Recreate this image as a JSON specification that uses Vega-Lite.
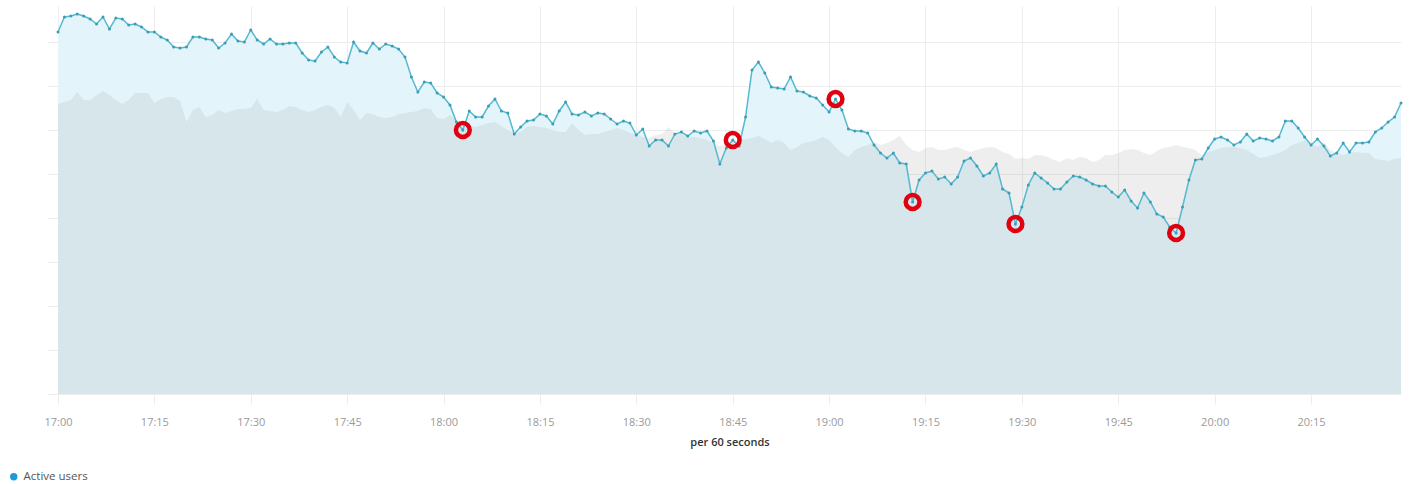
{
  "$schema": "https://vega.github.io/schema/vega-lite/v6.json",
  "autosize": {"type": "none"},
  "width": 1343,
  "height": 388,
  "padding": {"left": 58, "top": 6, "right": 9, "bottom": 90},
  "background": "white",
  "config": {
    "view": {"stroke": null},
    "font": "Open Sans"
  },
  "data": {
    "values": [
      {"t":"2024-01-01T17:00","a":362,"p":290},{"t":"2024-01-01T17:01","a":377,"p":292},{"t":"2024-01-01T17:02","a":378,"p":294},{"t":"2024-01-01T17:03","a":380,"p":302},{"t":"2024-01-01T17:04","a":378,"p":294},
      {"t":"2024-01-01T17:05","a":375,"p":294},{"t":"2024-01-01T17:06","a":370,"p":299},{"t":"2024-01-01T17:07","a":377,"p":303},{"t":"2024-01-01T17:08","a":365,"p":299},{"t":"2024-01-01T17:09","a":376,"p":294},
      {"t":"2024-01-01T17:10","a":375,"p":290},{"t":"2024-01-01T17:11","a":369,"p":294},{"t":"2024-01-01T17:12","a":370,"p":301},{"t":"2024-01-01T17:13","a":367,"p":301},{"t":"2024-01-01T17:14","a":362,"p":301},
      {"t":"2024-01-01T17:15","a":362,"p":291},{"t":"2024-01-01T17:16","a":357,"p":295},{"t":"2024-01-01T17:17","a":354,"p":297},{"t":"2024-01-01T17:18","a":347,"p":297},{"t":"2024-01-01T17:19","a":346,"p":293},
      {"t":"2024-01-01T17:20","a":347,"p":272},{"t":"2024-01-01T17:21","a":357,"p":284},{"t":"2024-01-01T17:22","a":357,"p":287},{"t":"2024-01-01T17:23","a":355,"p":277},{"t":"2024-01-01T17:24","a":354,"p":279},
      {"t":"2024-01-01T17:25","a":346,"p":284},{"t":"2024-01-01T17:26","a":351,"p":281},{"t":"2024-01-01T17:27","a":360,"p":283},{"t":"2024-01-01T17:28","a":353,"p":285},{"t":"2024-01-01T17:29","a":352,"p":285},
      {"t":"2024-01-01T17:30","a":364,"p":286},{"t":"2024-01-01T17:31","a":354,"p":295},{"t":"2024-01-01T17:32","a":350,"p":284},{"t":"2024-01-01T17:33","a":355,"p":283},{"t":"2024-01-01T17:34","a":350,"p":282},
      {"t":"2024-01-01T17:35","a":350,"p":284},{"t":"2024-01-01T17:36","a":351,"p":288},{"t":"2024-01-01T17:37","a":351,"p":287},{"t":"2024-01-01T17:38","a":341,"p":284},{"t":"2024-01-01T17:39","a":334,"p":282},
      {"t":"2024-01-01T17:40","a":333,"p":284},{"t":"2024-01-01T17:41","a":342,"p":287},{"t":"2024-01-01T17:42","a":347,"p":289},{"t":"2024-01-01T17:43","a":337,"p":286},{"t":"2024-01-01T17:44","a":332,"p":277},
      {"t":"2024-01-01T17:45","a":331,"p":292},{"t":"2024-01-01T17:46","a":352,"p":284},{"t":"2024-01-01T17:47","a":343,"p":274},{"t":"2024-01-01T17:48","a":341,"p":281},{"t":"2024-01-01T17:49","a":351,"p":280},
      {"t":"2024-01-01T17:50","a":345,"p":277},{"t":"2024-01-01T17:51","a":350,"p":276},{"t":"2024-01-01T17:52","a":348,"p":277},{"t":"2024-01-01T17:53","a":345,"p":280},{"t":"2024-01-01T17:54","a":337,"p":281},
      {"t":"2024-01-01T17:55","a":317,"p":282},{"t":"2024-01-01T17:56","a":302,"p":283},{"t":"2024-01-01T17:57","a":312,"p":286},{"t":"2024-01-01T17:58","a":311,"p":285},{"t":"2024-01-01T17:59","a":301,"p":276},
      {"t":"2024-01-01T18:00","a":297,"p":275},{"t":"2024-01-01T18:01","a":289,"p":279},{"t":"2024-01-01T18:02","a":272,"p":274},{"t":"2024-01-01T18:03","a":264,"p":271,"h":1},{"t":"2024-01-01T18:04","a":283,"p":268},
      {"t":"2024-01-01T18:05","a":277,"p":267},{"t":"2024-01-01T18:06","a":277,"p":269},{"t":"2024-01-01T18:07","a":288,"p":271},{"t":"2024-01-01T18:08","a":295,"p":272},{"t":"2024-01-01T18:09","a":283,"p":268},
      {"t":"2024-01-01T18:10","a":281,"p":264},{"t":"2024-01-01T18:11","a":260,"p":261},{"t":"2024-01-01T18:12","a":267,"p":262},{"t":"2024-01-01T18:13","a":273,"p":267},{"t":"2024-01-01T18:14","a":274,"p":268},
      {"t":"2024-01-01T18:15","a":280,"p":267},{"t":"2024-01-01T18:16","a":278,"p":266},{"t":"2024-01-01T18:17","a":270,"p":264},{"t":"2024-01-01T18:18","a":283,"p":262},{"t":"2024-01-01T18:19","a":292,"p":262},
      {"t":"2024-01-01T18:20","a":280,"p":271},{"t":"2024-01-01T18:21","a":279,"p":264},{"t":"2024-01-01T18:22","a":282,"p":259},{"t":"2024-01-01T18:23","a":278,"p":260},{"t":"2024-01-01T18:24","a":281,"p":260},
      {"t":"2024-01-01T18:25","a":280,"p":262},{"t":"2024-01-01T18:26","a":275,"p":264},{"t":"2024-01-01T18:27","a":270,"p":266},{"t":"2024-01-01T18:28","a":273,"p":264},{"t":"2024-01-01T18:29","a":271,"p":261},
      {"t":"2024-01-01T18:30","a":259,"p":259},{"t":"2024-01-01T18:31","a":265,"p":257},{"t":"2024-01-01T18:32","a":248,"p":256},{"t":"2024-01-01T18:33","a":254,"p":259},{"t":"2024-01-01T18:34","a":254,"p":260},
      {"t":"2024-01-01T18:35","a":248,"p":267},{"t":"2024-01-01T18:36","a":260,"p":261},{"t":"2024-01-01T18:37","a":262,"p":260},{"t":"2024-01-01T18:38","a":258,"p":257},{"t":"2024-01-01T18:39","a":263,"p":257},
      {"t":"2024-01-01T18:40","a":261,"p":256},{"t":"2024-01-01T18:41","a":263,"p":254},{"t":"2024-01-01T18:42","a":253,"p":251},{"t":"2024-01-01T18:43","a":230,"p":248},{"t":"2024-01-01T18:44","a":246,"p":250},
      {"t":"2024-01-01T18:45","a":254,"p":254,"h":1},{"t":"2024-01-01T18:46","a":248,"p":254},{"t":"2024-01-01T18:47","a":277,"p":255},{"t":"2024-01-01T18:48","a":324,"p":256},{"t":"2024-01-01T18:49","a":332,"p":258},
      {"t":"2024-01-01T18:50","a":321,"p":255},{"t":"2024-01-01T18:51","a":307,"p":251},{"t":"2024-01-01T18:52","a":306,"p":254},{"t":"2024-01-01T18:53","a":305,"p":251},{"t":"2024-01-01T18:54","a":317,"p":244},
      {"t":"2024-01-01T18:55","a":303,"p":247},{"t":"2024-01-01T18:56","a":302,"p":251},{"t":"2024-01-01T18:57","a":298,"p":252},{"t":"2024-01-01T18:58","a":296,"p":254},{"t":"2024-01-01T18:59","a":289,"p":257},
      {"t":"2024-01-01T19:00","a":282,"p":254},{"t":"2024-01-01T19:01","a":295,"p":247,"h":1},{"t":"2024-01-01T19:02","a":284,"p":241},{"t":"2024-01-01T19:03","a":265,"p":237},{"t":"2024-01-01T19:04","a":263,"p":244},
      {"t":"2024-01-01T19:05","a":263,"p":247},{"t":"2024-01-01T19:06","a":261,"p":249},{"t":"2024-01-01T19:07","a":249,"p":252},{"t":"2024-01-01T19:08","a":241,"p":249},{"t":"2024-01-01T19:09","a":236,"p":251},
      {"t":"2024-01-01T19:10","a":241,"p":254},{"t":"2024-01-01T19:11","a":231,"p":258},{"t":"2024-01-01T19:12","a":230,"p":249},{"t":"2024-01-01T19:13","a":192,"p":244,"h":1},{"t":"2024-01-01T19:14","a":214,"p":242},
      {"t":"2024-01-01T19:15","a":221,"p":246},{"t":"2024-01-01T19:16","a":223,"p":247},{"t":"2024-01-01T19:17","a":215,"p":244},{"t":"2024-01-01T19:18","a":217,"p":244},{"t":"2024-01-01T19:19","a":210,"p":246},
      {"t":"2024-01-01T19:20","a":217,"p":247},{"t":"2024-01-01T19:21","a":233,"p":244},{"t":"2024-01-01T19:22","a":236,"p":242},{"t":"2024-01-01T19:23","a":228,"p":244},{"t":"2024-01-01T19:24","a":218,"p":246},
      {"t":"2024-01-01T19:25","a":221,"p":247},{"t":"2024-01-01T19:26","a":230,"p":246},{"t":"2024-01-01T19:27","a":205,"p":242},{"t":"2024-01-01T19:28","a":201,"p":240},{"t":"2024-01-01T19:29","a":170,"p":235,"h":1},
      {"t":"2024-01-01T19:30","a":187,"p":236},{"t":"2024-01-01T19:31","a":209,"p":235},{"t":"2024-01-01T19:32","a":221,"p":239},{"t":"2024-01-01T19:33","a":216,"p":239},{"t":"2024-01-01T19:34","a":211,"p":237},
      {"t":"2024-01-01T19:35","a":205,"p":234},{"t":"2024-01-01T19:36","a":205,"p":232},{"t":"2024-01-01T19:37","a":212,"p":236},{"t":"2024-01-01T19:38","a":218,"p":234},{"t":"2024-01-01T19:39","a":217,"p":237},
      {"t":"2024-01-01T19:40","a":214,"p":236},{"t":"2024-01-01T19:41","a":210,"p":232},{"t":"2024-01-01T19:42","a":208,"p":234},{"t":"2024-01-01T19:43","a":208,"p":239},{"t":"2024-01-01T19:44","a":202,"p":239},
      {"t":"2024-01-01T19:45","a":197,"p":241},{"t":"2024-01-01T19:46","a":204,"p":244},{"t":"2024-01-01T19:47","a":193,"p":245},{"t":"2024-01-01T19:48","a":186,"p":244},{"t":"2024-01-01T19:49","a":201,"p":241},
      {"t":"2024-01-01T19:50","a":192,"p":239},{"t":"2024-01-01T19:51","a":180,"p":243},{"t":"2024-01-01T19:52","a":177,"p":246},{"t":"2024-01-01T19:53","a":167,"p":247},{"t":"2024-01-01T19:54","a":161,"p":249,"h":1},
      {"t":"2024-01-01T19:55","a":187,"p":247},{"t":"2024-01-01T19:56","a":214,"p":246},{"t":"2024-01-01T19:57","a":234,"p":244},{"t":"2024-01-01T19:58","a":235,"p":239},{"t":"2024-01-01T19:59","a":246,"p":242},
      {"t":"2024-01-01T20:00","a":255,"p":244},{"t":"2024-01-01T20:01","a":257,"p":246},{"t":"2024-01-01T20:02","a":254,"p":247},{"t":"2024-01-01T20:03","a":249,"p":247},{"t":"2024-01-01T20:04","a":252,"p":246},
      {"t":"2024-01-01T20:05","a":260,"p":244},{"t":"2024-01-01T20:06","a":253,"p":240},{"t":"2024-01-01T20:07","a":256,"p":236},{"t":"2024-01-01T20:08","a":255,"p":237},{"t":"2024-01-01T20:09","a":253,"p":239},
      {"t":"2024-01-01T20:10","a":257,"p":241},{"t":"2024-01-01T20:11","a":273,"p":244},{"t":"2024-01-01T20:12","a":273,"p":249},{"t":"2024-01-01T20:13","a":266,"p":251},{"t":"2024-01-01T20:14","a":257,"p":254},
      {"t":"2024-01-01T20:15","a":249,"p":251},{"t":"2024-01-01T20:16","a":255,"p":247},{"t":"2024-01-01T20:17","a":248,"p":252},{"t":"2024-01-01T20:18","a":238,"p":244},{"t":"2024-01-01T20:19","a":241,"p":241},
      {"t":"2024-01-01T20:20","a":251,"p":239},{"t":"2024-01-01T20:21","a":242,"p":241},{"t":"2024-01-01T20:22","a":251,"p":242},{"t":"2024-01-01T20:23","a":251,"p":241},{"t":"2024-01-01T20:24","a":252,"p":241},
      {"t":"2024-01-01T20:25","a":262,"p":235},{"t":"2024-01-01T20:26","a":266,"p":234},{"t":"2024-01-01T20:27","a":272,"p":233},{"t":"2024-01-01T20:28","a":277,"p":235},{"t":"2024-01-01T20:29","a":291,"p":236}
    ]
  },
  "encoding": {
    "x": {
      "field": "t",
      "type": "temporal",
      "scale": {"nice": false},
      "axis": {
        "title": "per 60 seconds",
        "format": "%H:%M",
        "values": [
          {"year": 2024, "month": 1, "date": 1, "hours": 17, "minutes": 0},
          {"year": 2024, "month": 1, "date": 1, "hours": 17, "minutes": 15},
          {"year": 2024, "month": 1, "date": 1, "hours": 17, "minutes": 30},
          {"year": 2024, "month": 1, "date": 1, "hours": 17, "minutes": 45},
          {"year": 2024, "month": 1, "date": 1, "hours": 18, "minutes": 0},
          {"year": 2024, "month": 1, "date": 1, "hours": 18, "minutes": 15},
          {"year": 2024, "month": 1, "date": 1, "hours": 18, "minutes": 30},
          {"year": 2024, "month": 1, "date": 1, "hours": 18, "minutes": 45},
          {"year": 2024, "month": 1, "date": 1, "hours": 19, "minutes": 0},
          {"year": 2024, "month": 1, "date": 1, "hours": 19, "minutes": 15},
          {"year": 2024, "month": 1, "date": 1, "hours": 19, "minutes": 30},
          {"year": 2024, "month": 1, "date": 1, "hours": 19, "minutes": 45},
          {"year": 2024, "month": 1, "date": 1, "hours": 20, "minutes": 0},
          {"year": 2024, "month": 1, "date": 1, "hours": 20, "minutes": 15}
        ],
        "grid": true,
        "gridColor": "#ededed",
        "tickColor": "#ededed",
        "tickSize": 10,
        "domain": false,
        "labelColor": "#9a9a9a",
        "labelFontSize": 11,
        "labelPadding": 12,
        "labelFlush": false,
        "titleFontSize": 11,
        "titleFontWeight": 600,
        "titleColor": "#333333",
        "titlePadding": 9
      }
    }
  },
  "layer": [
    {
      "mark": {"type": "area", "color": "#e3f5fb"},
      "encoding": {
        "y": {
          "field": "a",
          "type": "quantitative",
          "scale": {"domain": [0, 388], "nice": false, "zero": true},
          "axis": {
            "title": null,
            "labels": false,
            "domain": false,
            "values": [0, 44, 88, 132, 176, 220, 264, 308, 352],
            "grid": true,
            "gridColor": "#ededed",
            "tickColor": "#ededed",
            "tickSize": 11
          }
        }
      }
    },
    {
      "mark": {"type": "area", "color": "#ababab", "opacity": 0.2},
      "encoding": {"y": {"field": "p", "type": "quantitative"}}
    },
    {
      "mark": {"type": "line", "strokeWidth": 1.5},
      "encoding": {
        "y": {"field": "a", "type": "quantitative"},
        "color": {
          "datum": "Active users",
          "type": "nominal",
          "scale": {"range": ["#55b9d0"]},
          "legend": {
            "title": null,
            "orient": "none",
            "legendX": -50,
            "legendY": 465,
            "symbolType": "circle",
            "symbolSize": 55,
            "labelFontSize": 11.5,
            "labelColor": "#555555",
            "encode": {
              "symbols": {"update": {"fill": {"value": "#1f9ad6"}, "stroke": {"value": "#1f9ad6"}, "strokeWidth": {"value": 0}}}
            }
          }
        }
      }
    },
    {
      "mark": {"type": "point", "filled": true, "size": 9, "color": "#3f9db3", "opacity": 1},
      "encoding": {"y": {"field": "a", "type": "quantitative"}}
    },
    {
      "transform": [{"filter": "datum.h == 1"}],
      "mark": {"type": "point", "shape": "circle", "filled": false, "stroke": "#e1000f", "strokeWidth": 4.5, "size": 190, "opacity": 1},
      "encoding": {"y": {"field": "a", "type": "quantitative"}}
    }
  ]
}
